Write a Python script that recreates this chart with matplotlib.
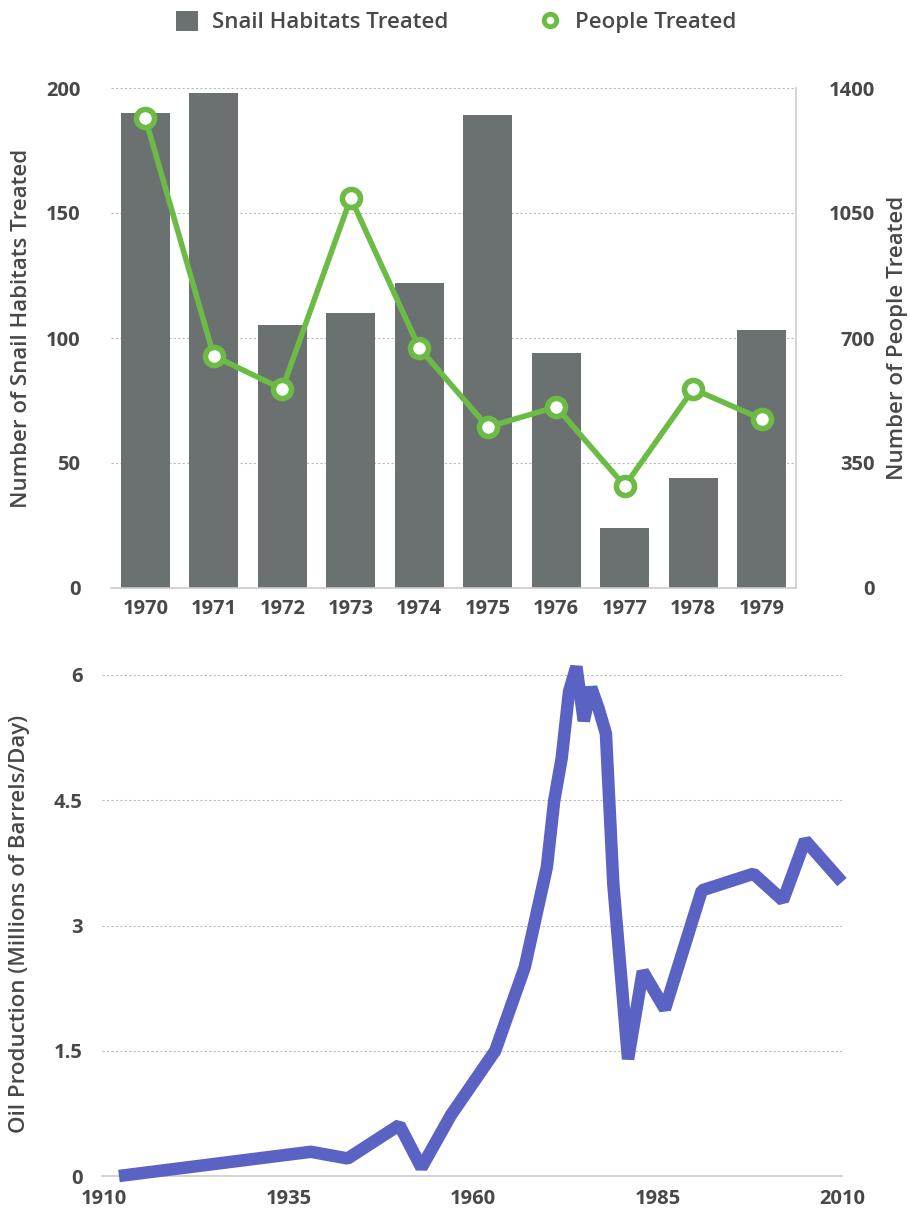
import matplotlib.pyplot as plt
from matplotlib.lines import Line2D
from matplotlib.patches import Patch

plt.rcParams['font.family'] = ['Open Sans', 'DejaVu Sans']

# top chart data
years = ['1970', '1971', '1972', '1973', '1974', '1975', '1976', '1977', '1978', '1979']
snail_habitats = [190, 198, 105, 110, 122, 189, 94, 24, 44, 103]
people_treated = [1316, 650, 557, 1092, 672, 451, 507, 286, 557, 473]

# bottom chart data
oil_years = [1912, 1938, 1943, 1950, 1953, 1957, 1963, 1967, 1970, 1971, 1972, 1973,
             1974, 1975, 1976, 1977, 1978, 1979, 1981, 1983, 1986, 1991, 1998, 2002, 2005, 2010]
oil_production = [0.0, 0.29, 0.21, 0.61, 0.1, 0.73, 1.5, 2.5, 3.7, 4.5, 5.0, 5.8,
                  6.1, 5.45, 5.85, 5.6, 5.3, 3.5, 1.4, 2.45, 2.0, 3.42, 3.62, 3.3, 4.02, 3.52]

W, H = 910, 1208
fig = plt.figure(figsize=(W / 100, H / 100), dpi=100)

bar_color = '#6b7170'
green = '#6cbb45'
blue = '#5a63c4'
text_color = '#484848'
grid_color = '#bbbbbb'

# ---- top chart ----
ax = fig.add_axes([111 / W, 1 - 588 / H, (796 - 111) / W, (588 - 88) / H])
x = range(len(years))
ax.bar(x, snail_habitats, width=0.715, color=bar_color, zorder=2)
ax.set_xlim(-0.5, 9.5)
ax.set_ylim(0, 200)
ax.set_yticks([0, 50, 100, 150, 200])
ax.set_xticks(list(x))
ax.set_xticklabels(years)
ax.yaxis.grid(True, linestyle=(0, (2, 2)), color=grid_color, linewidth=0.8)
ax.set_axisbelow(True)
for s in ['left', 'top']:
    ax.spines[s].set_visible(False)
for s in ['bottom', 'right']:
    ax.spines[s].set_color('#cccccc')
    ax.spines[s].set_linewidth(1.2)
ax.tick_params(axis='both', length=0, labelsize=14.5, labelcolor=text_color)
ax.tick_params(axis='y', pad=22)
ax.tick_params(axis='x', pad=8)
for lab in ax.get_xticklabels() + ax.get_yticklabels():
    lab.set_fontweight('bold')

ax2 = ax.twinx()
ax2.plot(x, people_treated, color=green, linewidth=4, marker='o', markersize=13,
         markerfacecolor='white', markeredgecolor=green, markeredgewidth=4, zorder=3,
         clip_on=False)
ax2.set_ylim(0, 1400)
ax2.set_yticks([0, 350, 700, 1050, 1400])
for s in ax2.spines.values():
    s.set_visible(False)
ax2.tick_params(axis='y', length=0, labelsize=14.5, labelcolor=text_color, pad=57)
for lab in ax2.get_yticklabels():
    lab.set_fontweight('bold')
    lab.set_horizontalalignment('right')

fig.text(22 / W, 1 - 328 / H, 'Number of Snail Habitats Treated', rotation=90,
         ha='center', va='center', fontsize=16, color=text_color, fontweight='semibold')
fig.text(897 / W, 1 - 338 / H, 'Number of People Treated', rotation=90,
         ha='center', va='center', fontsize=16, color=text_color, fontweight='semibold')

handles = [Patch(facecolor=bar_color, edgecolor='none'),
           Line2D([], [], color=green, linewidth=0, marker='o', markersize=9,
                  markerfacecolor='white', markeredgecolor=green, markeredgewidth=3.5)]
leg = fig.legend(handles, ['Snail Habitats Treated', 'People Treated'], loc='center',
                 bbox_to_anchor=(456 / W, 1 - 22 / H), ncol=2, frameon=False,
                 fontsize=16, handlelength=1.0, handleheight=1.0, columnspacing=4.1,
                 handletextpad=0.6)
for t in leg.get_texts():
    t.set_color(text_color)
    t.set_fontweight('semibold')

# ---- bottom chart ----
bx = fig.add_axes([102 / W, 1 - 1176 / H, (842 - 102) / W, (1176 - 675) / H])
bx.plot(oil_years, oil_production, color=blue, linewidth=9, solid_joinstyle='bevel',
        solid_capstyle='butt', clip_on=False, zorder=3)
bx.set_xlim(1909.7, 2010)
bx.set_ylim(0, 6)
bx.set_yticks([0, 1.5, 3, 4.5, 6])
bx.set_yticklabels(['0', '1.5', '3', '4.5', '6'])
bx.set_xticks([1910, 1935, 1960, 1985, 2010])
bx.yaxis.grid(True, linestyle=(0, (2, 2)), color=grid_color, linewidth=0.8)
bx.set_axisbelow(True)
for s in ['left', 'top', 'right']:
    bx.spines[s].set_visible(False)
bx.spines['bottom'].set_color('#cccccc')
bx.spines['bottom'].set_linewidth(1.2)
bx.tick_params(axis='both', length=0, labelsize=14.5, labelcolor=text_color)
bx.tick_params(axis='y', pad=14)
bx.tick_params(axis='x', pad=9)
for lab in bx.get_xticklabels() + bx.get_yticklabels():
    lab.set_fontweight('bold')

fig.text(20 / W, 1 - 924 / H, 'Oil Production (Millions of Barrels/Day)', rotation=90,
         ha='center', va='center', fontsize=16, color=text_color, fontweight='semibold')

fig.savefig('out.png', dpi=100)
